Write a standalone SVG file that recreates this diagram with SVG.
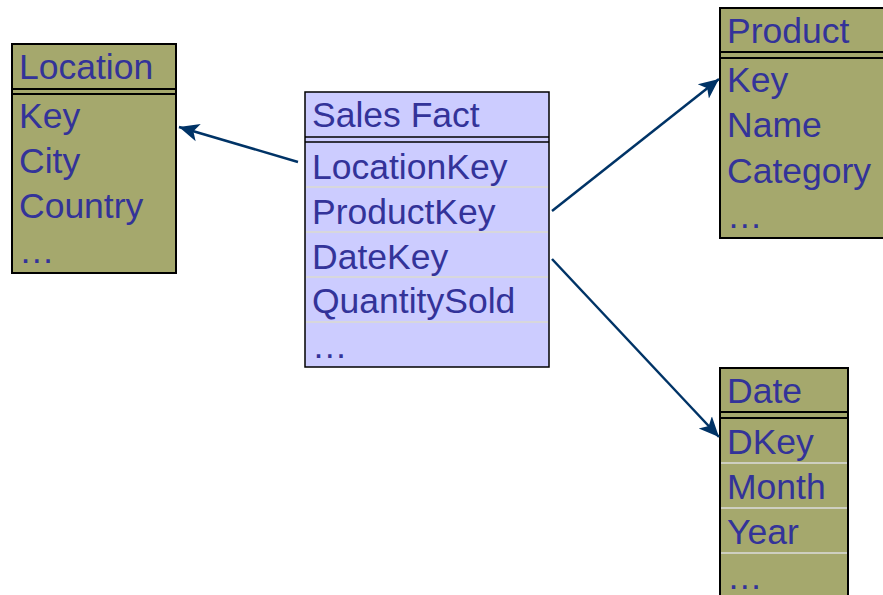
<svg xmlns="http://www.w3.org/2000/svg" width="883" height="595" viewBox="0 0 883 595">
  <defs>
    <style>
      .t { font-family: "Liberation Sans", Arial, sans-serif; font-size: 35.5px; fill: #333399; }
      .dim { fill: #A5A86D; stroke: #000; stroke-width: 2; }
      .fact { fill: #CCCCFF; stroke: #000; stroke-width: 1.5; }
      .hl { stroke: #000; stroke-width: 2; }
      .sepF { stroke: #E2E2B8; stroke-width: 1; }
      .sepD { stroke: #DCDCDC; stroke-width: 1.5; }
      .conn { stroke: #003366; stroke-width: 2.5; fill: none; marker-end: url(#ah); }
    </style>
    <marker id="ah" markerUnits="userSpaceOnUse" markerWidth="24" markerHeight="20" refX="20" refY="9" orient="auto" viewBox="0 0 24 18">
      <path d="M0,0 L20,9 L0,18 L5,9 Z" fill="#003366"/>
    </marker>
  </defs>
  <rect width="883" height="595" fill="#fff"/>

  <g id="location">
    <rect class="dim" x="12" y="44" width="164" height="229"/>
    <line class="hl" x1="12" y1="89" x2="176" y2="89"/>
    <line class="hl" x1="12" y1="94" x2="176" y2="94"/>
    <text class="t" x="19" y="79">Location</text>
    <text class="t" x="19" y="128">Key</text>
    <text class="t" x="19" y="173">City</text>
    <text class="t" x="19" y="218">Country</text>
    <text class="t" x="19" y="263">…</text>
  </g>

  <g id="sales-fact">
    <rect class="fact" x="305" y="92" width="244" height="275"/>
    <line class="hl" x1="305" y1="137" x2="549" y2="137" style="stroke-width:1.5"/>
    <line class="hl" x1="305" y1="142" x2="549" y2="142" style="stroke-width:1.5"/>
    <line class="sepF" x1="306" y1="187" x2="548" y2="187"/>
    <line class="sepF" x1="306" y1="232" x2="548" y2="232"/>
    <line class="sepF" x1="306" y1="277" x2="548" y2="277"/>
    <line class="sepF" x1="306" y1="322" x2="548" y2="322"/>
    <text class="t" x="312" y="127">Sales Fact</text>
    <text class="t" x="312" y="179">LocationKey</text>
    <text class="t" x="312" y="224">ProductKey</text>
    <text class="t" x="312" y="269">DateKey</text>
    <text class="t" x="312" y="313">QuantitySold</text>
    <text class="t" x="312" y="358">…</text>
  </g>

  <g id="product">
    <rect class="dim" x="720" y="8" width="175" height="230"/>
    <line class="hl" x1="720" y1="52" x2="895" y2="52"/>
    <line class="hl" x1="720" y1="58" x2="895" y2="58"/>
    <text class="t" x="727" y="43">Product</text>
    <text class="t" x="727" y="92">Key</text>
    <text class="t" x="727" y="137">Name</text>
    <text class="t" x="727" y="183">Category</text>
    <text class="t" x="727" y="228">…</text>
  </g>

  <g id="date">
    <rect class="dim" x="720" y="368" width="128" height="240"/>
    <line class="hl" x1="720" y1="412" x2="848" y2="412"/>
    <line class="hl" x1="720" y1="418" x2="848" y2="418"/>
    <line class="sepD" x1="721" y1="463" x2="847" y2="463"/>
    <line class="sepD" x1="721" y1="508" x2="847" y2="508"/>
    <line class="sepD" x1="721" y1="553" x2="847" y2="553"/>
    <text class="t" x="727" y="403">Date</text>
    <text class="t" x="727" y="454">DKey</text>
    <text class="t" x="727" y="499">Month</text>
    <text class="t" x="727" y="544">Year</text>
    <text class="t" x="727" y="589">…</text>
  </g>

  <g id="connectors">
    <line class="conn" x1="298" y1="162" x2="179" y2="127"/>
    <line class="conn" x1="552" y1="211" x2="719" y2="79"/>
    <line class="conn" x1="552" y1="259" x2="719" y2="437"/>
  </g>
</svg>
